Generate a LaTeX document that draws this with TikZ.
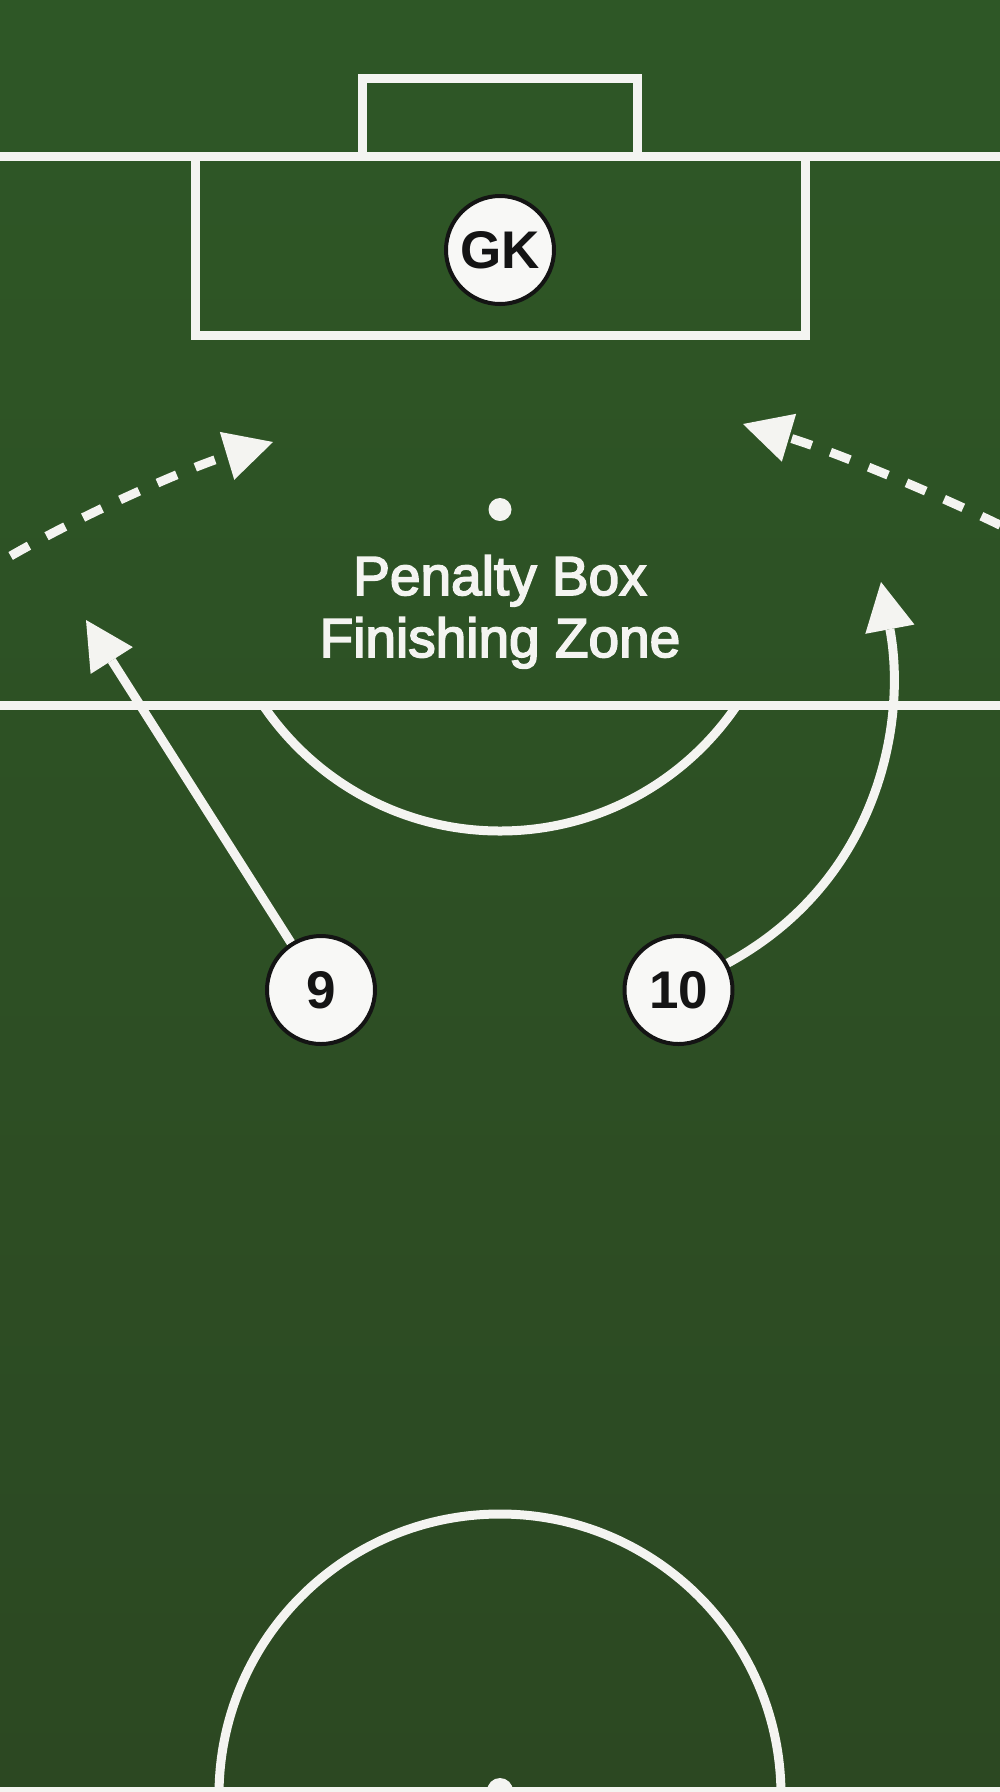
\documentclass[tikz,border=0pt]{standalone}
\usepackage{fontspec}
\setmainfont{Liberation Sans}
\newfontfamily\zonefont[FakeBold=3]{Liberation Sans}
\usetikzlibrary{arrows.meta}
\definecolor{grasstop}{HTML}{2E5726}
\definecolor{grassbot}{HTML}{2C4822}
\definecolor{chalk}{HTML}{F4F4F1}
\definecolor{discfill}{HTML}{F8F8F6}
\definecolor{ink}{HTML}{141414}
\pgfdeclarelayer{field}
\pgfdeclarelayer{conn}
\pgfsetlayers{field,conn,main}
\begin{document}
\begin{tikzpicture}[x=1pt,y=-1pt,
  fieldline/.style={draw=chalk,line width=9pt},
  player/.style={circle,draw=ink,line width=4pt,fill=discfill,minimum size=108pt,inner sep=0pt,font=\fontsize{53}{60}\selectfont\bfseries,text=ink},
  runarrow/.style={draw=chalk,line width=9pt,-{Triangle[length=48pt,width=50pt,line width=0pt]}},
  dashrun/.style={runarrow,dash pattern=on 21pt off 20pt},
  zonelabel/.style={text=chalk,font=\zonefont\fontsize{55}{62}\selectfont,inner sep=0pt,anchor=base}
]
\useasboundingbox (0,0) rectangle (1000,1792);
\begin{pgfonlayer}{field}
  \shade[top color=grasstop,bottom color=grassbot] (0,0) rectangle (1000,1792);
  % goal
  \path[fieldline] (362.5,156) -- (362.5,78) -- (637.5,78) -- (637.5,156);
  % goal line
  \path[fieldline] (0,156) -- (1000,156);
  % box
  \path[fieldline] (195,156) -- (195,335.5) -- (805,335.5) -- (805,156);
  % box edge line
  \path[fieldline] (0,705) -- (1000,705);
  % arc
  \begin{scope}
    \clip (0,705) rectangle (1000,1000);
    \path[fieldline] (500,545) circle[radius=286];
  \end{scope}
  \fill[chalk] (500,509.5) circle[radius=11.5];
  % centre circle
  \path[fieldline] (500,1795) circle[radius=281];
  \path[fieldline,line width=10pt] (0,1792) -- (1000,1792);
  \fill[chalk] (500,1791) circle[radius=13];
\end{pgfonlayer}

\node[player] (gk) at (500,250) {GK};
\node[player] (n9) at (321,990) {9};
\node[player] (n10) at (678.5,990) {10};
\node[zonelabel] (zone1) at (500,595) {Penalty Box};
\node[zonelabel] (zone2) at (500,657) {Finishing Zone};

\coordinate (t9) at (86,620);
\coordinate (t10) at (881,582);
\coordinate (lstart) at (2,561);
\coordinate (ltip) at (273,442);
\coordinate (rstart) at (1012,531);
\coordinate (rtip) at (743,424);

\begin{pgfonlayer}{conn}
  \path[runarrow] (n9) -- (t9);
  \path[runarrow] (n10) .. controls (880,880) and (907,720) .. (t10);
  \path[dashrun,dash phase=31pt] (lstart) .. controls (80,515) and (190,467) .. (ltip);
  \path[dashrun,dash phase=28pt] (rstart) .. controls (940,495) and (830,450) .. (rtip);
\end{pgfonlayer}
\end{tikzpicture}
\end{document}
